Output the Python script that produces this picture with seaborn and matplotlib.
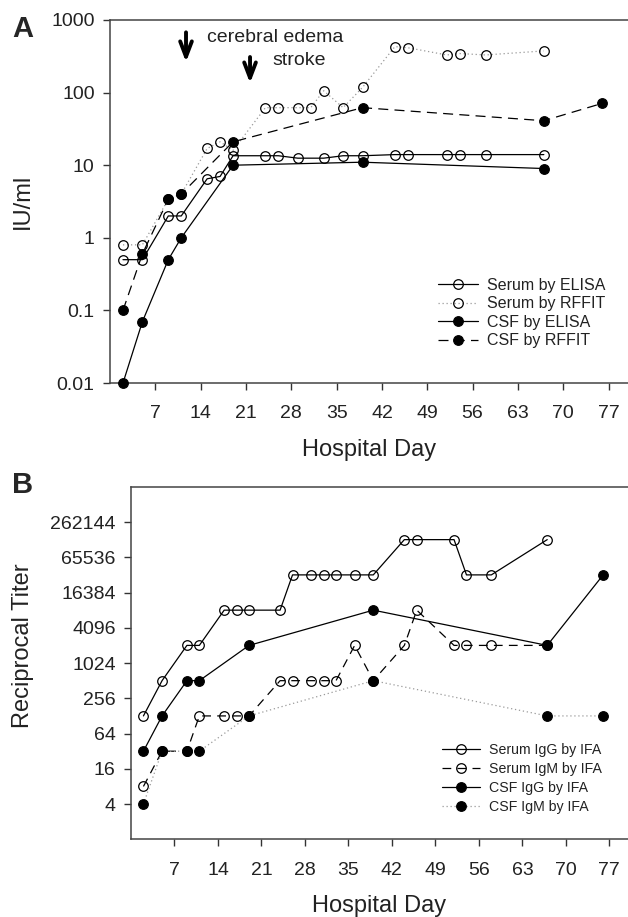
import matplotlib
matplotlib.use("Agg")
import matplotlib.pyplot as plt
from matplotlib.ticker import FixedLocator, FixedFormatter, NullLocator
import seaborn as sns

# ── Panel A: rabies antibody (IU/ml) ────────────────────────────────────────
A_SERUM_ELISA_DAY = [2, 5, 9, 11, 15, 17, 19, 24, 26, 29, 33, 36, 39, 44, 46, 52, 54, 58, 67]
A_SERUM_ELISA = [0.5, 0.5, 2, 2, 6.5, 7, 13.5, 13.5, 13.5, 12.5, 12.5, 13.5, 13.5, 14, 14, 14, 14, 14, 14]

A_SERUM_RFFIT_DAY = [2, 5, 9, 11, 15, 17, 19, 24, 26, 29, 31, 33, 36, 39, 44, 46, 52, 54, 58, 67]
A_SERUM_RFFIT = [0.8, 0.8, 3.4, 4, 17, 21, 16, 62, 62, 62, 62, 106, 62, 118, 430, 415, 330, 345, 330, 375]

A_CSF_ELISA_DAY = [2, 5, 9, 11, 19, 39, 67]
A_CSF_ELISA = [0.01, 0.07, 0.5, 1, 10, 11, 9]

A_CSF_RFFIT_DAY = [2, 5, 9, 11, 19, 39, 67, 76]
A_CSF_RFFIT = [0.1, 0.6, 3.4, 4, 21, 62, 41, 71]

A_YTICKS = [0.01, 0.1, 1, 10, 100, 1000]
A_YLABELS = ["0.01", "0.1", "1", "10", "100", "1000"]

# ── Panel B: reciprocal IFA titers ──────────────────────────────────────────
B_SERUM_IGG_DAY = [2, 5, 9, 11, 15, 17, 19, 24, 26, 29, 31, 33, 36, 39, 44, 46, 52, 54, 58, 67]
B_SERUM_IGG = [128, 512, 2048, 2048, 8192, 8192, 8192, 8192, 32768, 32768, 32768, 32768,
               32768, 32768, 131072, 131072, 131072, 32768, 32768, 131072]

B_SERUM_IGM_DAY = [2, 5, 9, 11, 15, 17, 19, 24, 26, 29, 31, 33, 36, 39, 44, 46, 52, 54, 58, 67]
B_SERUM_IGM = [8, 32, 32, 128, 128, 128, 128, 512, 512, 512, 512, 512,
               2048, 512, 2048, 8192, 2048, 2048, 2048, 2048]

B_CSF_IGG_DAY = [2, 5, 9, 11, 19, 39, 67, 76]
B_CSF_IGG = [32, 128, 512, 512, 2048, 8192, 2048, 32768]

B_CSF_IGM_DAY = [2, 5, 9, 11, 19, 39, 67, 76]
B_CSF_IGM = [4, 32, 32, 32, 128, 512, 128, 128]

B_YTICKS = [4, 16, 64, 256, 1024, 4096, 16384, 65536, 262144]

X_TICKS = [7, 14, 21, 28, 35, 42, 49, 56, 63, 70, 77]

sns.set_style("ticks")
plt.rcParams["font.family"] = ["Liberation Sans", "DejaVu Sans"]

DOT_GREY = "#9a9a9a"
MS = 6.9
MEW = 0.9
LW = 0.9


def draw(ax, days, vals, label, filled, ls, lcolor="black", z=3):
    sns.lineplot(
        x=days, y=vals, ax=ax, estimator=None, sort=False, legend=False,
        color=lcolor, linestyle=ls, lw=LW, marker="o", markersize=MS,
        markerfacecolor="black" if filled else "none",
        markeredgecolor="black", markeredgewidth=MEW,
        label=label, zorder=z, clip_on=False,
    )


def style_axes(ax, yticks, ylabels, ylim):
    ax.set_yscale("log")
    ax.set_ylim(*ylim)
    ax.set_xlim(0, 80)
    ax.yaxis.set_major_locator(FixedLocator(yticks))
    ax.yaxis.set_major_formatter(FixedFormatter(ylabels))
    ax.yaxis.set_minor_locator(NullLocator())
    ax.set_xticks(X_TICKS)
    ax.set_xticklabels([str(t) for t in X_TICKS])
    ax.tick_params(axis="both", direction="out", length=5, width=1,
                   color="#333333", labelsize=14, labelcolor="#222222")
    ax.tick_params(axis="x", pad=11)
    ax.tick_params(axis="y", pad=6)
    for side in ["left", "bottom", "top"]:
        ax.spines[side].set_visible(True)
        ax.spines[side].set_color("#444444")
        ax.spines[side].set_linewidth(1.1)
    ax.spines["right"].set_visible(False)
    ax.set_xlabel("Hospital Day", fontsize=17, color="#222222", labelpad=12)


fig = plt.figure(figsize=(6.28, 9.17), dpi=100)
axA = fig.add_axes([0.1752, 0.5823, 0.8248, 0.3959])
axB = fig.add_axes([0.2086, 0.0847, 0.7914, 0.3845])

# ── Panel A ─────────────────────────────────────────────────────────────────
draw(axA, A_SERUM_ELISA_DAY, A_SERUM_ELISA, "Serum by ELISA", False, "-")
draw(axA, A_SERUM_RFFIT_DAY, A_SERUM_RFFIT, "Serum by RFFIT", False, (0, (1, 2.2)), DOT_GREY)
draw(axA, A_CSF_ELISA_DAY, A_CSF_ELISA, "CSF by ELISA", True, "-", z=4)
draw(axA, A_CSF_RFFIT_DAY, A_CSF_RFFIT, "CSF by RFFIT", True, (0, (8, 5)), z=4)
style_axes(axA, A_YTICKS, A_YLABELS, (0.01, 1000))
axA.set_ylabel("IU/ml", fontsize=17, color="#222222")
axA.yaxis.set_label_coords(-0.147, 0.5)

axA.legend(loc="upper left", bbox_to_anchor=(0.633, 0.29), frameon=False,
           fontsize=11.5, handlelength=2.5, handletextpad=0.55, labelspacing=0.22,
           borderpad=0, borderaxespad=0, labelcolor="#222222")

arrow = dict(arrowstyle="->, head_length=1.1, head_width=0.42", lw=2.8,
             color="black", shrinkA=0, shrinkB=0)
axA.annotate("", xy=(0.1467, 0.884), xytext=(0.1467, 0.966),
             xycoords="axes fraction", arrowprops=arrow)
axA.annotate("", xy=(0.2703, 0.826), xytext=(0.2703, 0.898),
             xycoords="axes fraction", arrowprops=arrow)
axA.text(0.187, 0.939, "cerebral edema", transform=axA.transAxes,
         fontsize=14, color="#222222", va="baseline")
axA.text(0.3127, 0.876, "stroke", transform=axA.transAxes,
         fontsize=14, color="#222222", va="baseline")

# ── Panel B ─────────────────────────────────────────────────────────────────
draw(axB, B_SERUM_IGG_DAY, B_SERUM_IGG, "Serum IgG by IFA", False, "-")
draw(axB, B_SERUM_IGM_DAY, B_SERUM_IGM, "Serum IgM by IFA", False, (0, (7, 5)))
draw(axB, B_CSF_IGG_DAY, B_CSF_IGG, "CSF IgG by IFA", True, "-", z=4)
draw(axB, B_CSF_IGM_DAY, B_CSF_IGM, "CSF IgM by IFA", True, (0, (1, 2.2)), DOT_GREY, z=4)
style_axes(axB, B_YTICKS, [str(t) for t in B_YTICKS], (1, 4 ** 10))
axB.set_ylabel("Reciprocal Titer", fontsize=17, color="#222222")
axB.yaxis.set_label_coords(-0.195, 0.55)

axB.legend(loc="upper left", bbox_to_anchor=(0.626, 0.272), frameon=False,
           fontsize=10.2, handlelength=2.7, handletextpad=0.6, labelspacing=0.35,
           borderpad=0, borderaxespad=0, labelcolor="#222222")

fig.text(12 / 628, 1 - 37 / 917, "A", fontsize=21, fontweight="bold", va="baseline")
fig.text(12 / 628, 1 - 493 / 917, "B", fontsize=21, fontweight="bold", va="baseline")

fig.savefig("out.png", dpi=100)
